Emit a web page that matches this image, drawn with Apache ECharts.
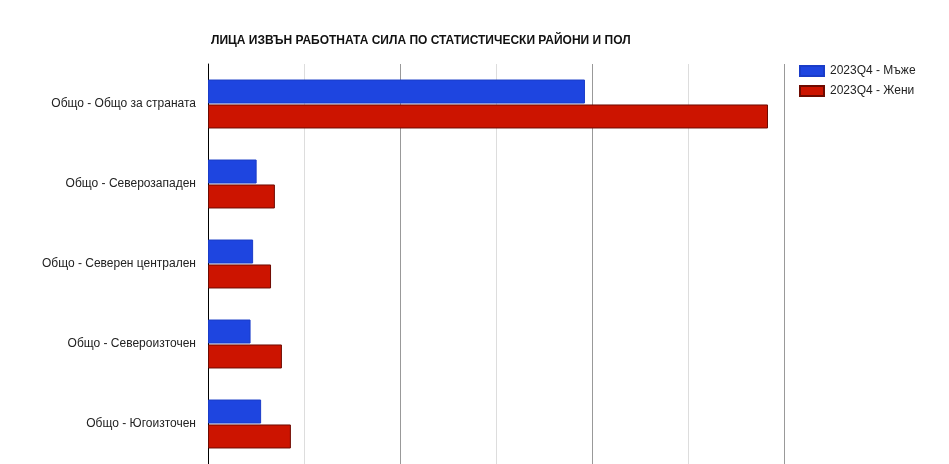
<!DOCTYPE html>
<html>
<head>
<meta charset="utf-8">
<script src="https://cdn.jsdelivr.net/npm/echarts@6/dist/echarts.min.js"></script>
<style>
  html, body { margin: 0; padding: 0; background: #fff; }
  #main { width: 949px; height: 464px; }
</style>
</head>
<body>
<div id="main"></div>
<script>
// категории (отгоре надолу)
var categories = ['Общо - Общо за страната', 'Общо - Северозападен', 'Общо - Северен централен', 'Общо - Североизточен', 'Общо - Югоизточен'];
var seriesNames = ['2023Q4 - Мъже', '2023Q4 - Жени'];
// стойности, хил. души (прочетени от графиката)
var men = [1178, 152, 141, 133, 166];
var women = [1750, 209, 197, 231, 259];

var myChart = echarts.init(document.getElementById('main'));
var option = {
  animation: false,
  backgroundColor: '#fff',
  title: {
    text: 'ЛИЦА ИЗВЪН РАБОТНАТА СИЛА ПО СТАТИСТИЧЕСКИ РАЙОНИ И ПОЛ',
    left: 206,
    top: 30,
    textStyle: {
      fontFamily: 'Liberation Sans',
      fontSize: 12,
      fontWeight: 'bold',
      color: '#111'
    }
  },
  legend: {
    orient: 'vertical',
    left: 794,
    top: 60,
    itemWidth: 24,
    itemHeight: 10,
    itemGap: 8,
    icon: 'rect',
    textStyle: { fontFamily: 'Liberation Sans', fontSize: 12, color: '#222', padding: [0, 0, 0, 1] },
    data: seriesNames
  },
  grid: { left: 208, right: 165, top: 64, bottom: 0 },
  xAxis: {
    type: 'value',
    min: 0,
    max: 1800,
    interval: 300,
    axisLabel: { show: false },
    axisLine: { show: false },
    axisTick: { show: false },
    splitLine: { lineStyle: { color: ['#999', '#ddd'], width: 1 } }
  },
  yAxis: {
    type: 'category',
    inverse: true,
    data: categories,
    axisLine: { lineStyle: { color: '#000', width: 1 } },
    axisTick: { show: false },
    axisLabel: { fontFamily: 'Liberation Sans', fontSize: 12, color: '#222', margin: 12 }
  },
  series: [
    {
      name: seriesNames[0],
      type: 'bar',
      data: men,
      barWidth: 24,
      barGap: '4%',
      itemStyle: { color: '#1e45e0', borderColor: '#1a3cc8', borderWidth: 1 }
    },
    {
      name: seriesNames[1],
      type: 'bar',
      data: women,
      barWidth: 24,
      itemStyle: { color: '#cc1400', borderColor: '#6e0a00', borderWidth: 1 }
    }
  ]
};
myChart.setOption(option);
</script>
</body>
</html>
